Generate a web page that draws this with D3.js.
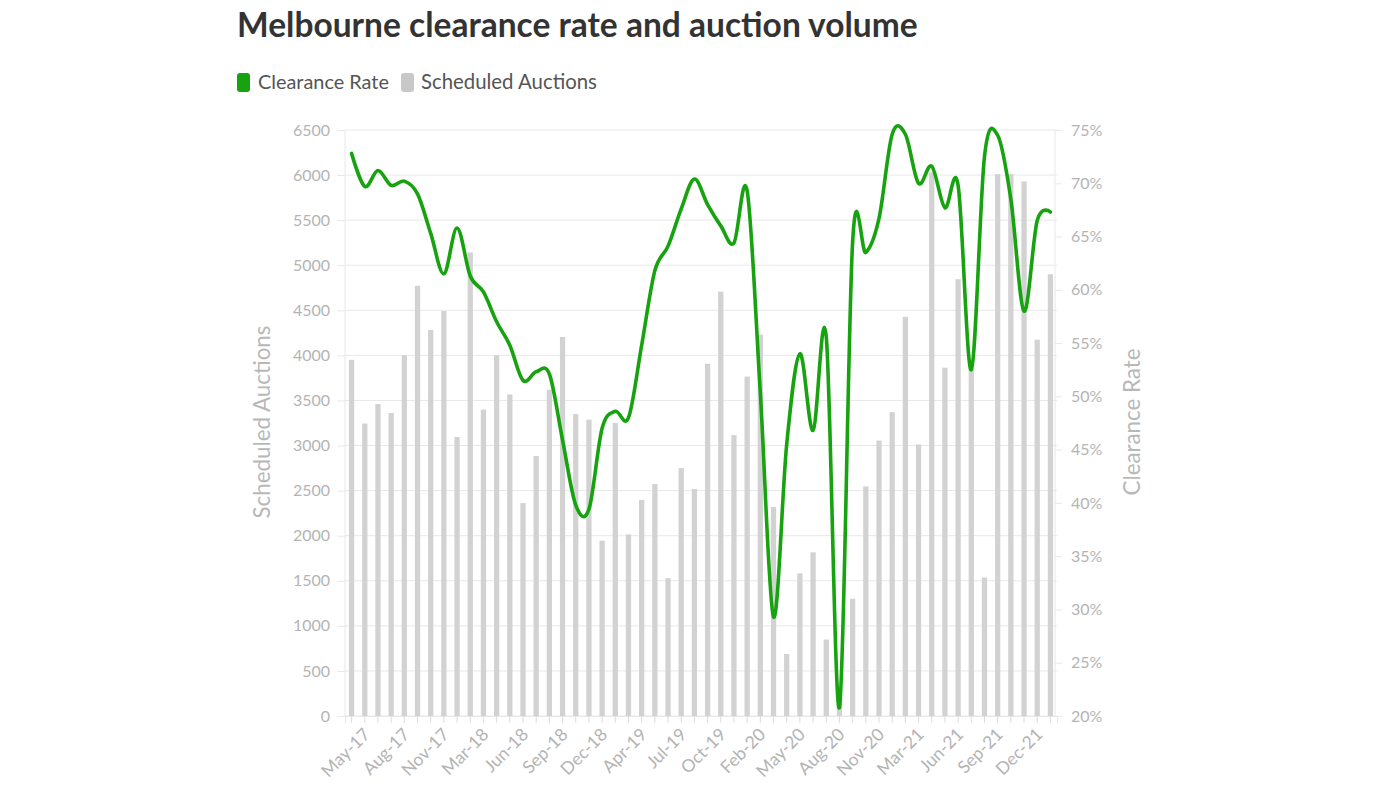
<!DOCTYPE html>
<html>
<head>
<meta charset="utf-8">
<script src="https://cdn.jsdelivr.net/npm/d3@7"></script>
<style>
  html, body { margin: 0; padding: 0; background: #fff; }
  svg { display: block; font-family: "Lato", "Noto Sans", sans-serif; }
</style>
</head>
<body>
<svg id="chart" width="1396" height="785"></svg>
<script>
// ---- data ----
const categories = [
  "May-17","Jun-17","Jul-17","Aug-17","Sep-17","Oct-17","Nov-17","Dec-17",
  "Feb-18","Mar-18","Apr-18","May-18","Jun-18","Jul-18","Aug-18","Sep-18","Oct-18","Nov-18","Dec-18",
  "Feb-19","Mar-19","Apr-19","May-19","Jun-19","Jul-19","Aug-19","Sep-19","Oct-19","Nov-19","Dec-19",
  "Feb-20","Mar-20","Apr-20","May-20","Jun-20","Jul-20","Aug-20","Sep-20","Oct-20","Nov-20","Dec-20",
  "Feb-21","Mar-21","Apr-21","May-21","Jun-21","Jul-21","Aug-21","Sep-21","Oct-21","Nov-21","Dec-21",
  "Feb-22","Mar-22"
];
const scheduledAuctions = [
  3950, 3244, 3460, 3361, 4002, 4772, 4282, 4492,
  3094, 5142, 3399, 4002, 3567, 2362, 2883, 3619, 4204, 3348, 3287,
  1945, 3249, 2014, 2397, 2573, 1528, 2750, 2517, 3907, 4707, 3115,
  3765, 4230, 2319, 688, 1583, 1816, 848, 300, 1300, 2547, 3055,
  3370, 4428, 3012, 6030, 3864, 4845, 3850, 1536, 6010, 6010, 5930,
  4174, 4900
];
const clearanceRate = [
  72.8, 69.7, 71.2, 69.8, 70.2, 69.0, 65.3, 61.5,
  65.8, 61.3, 59.8, 57.0, 54.8, 51.5, 52.3, 52.1, 45.9, 39.8, 39.4,
  47.0, 48.6, 48.0, 54.8, 61.8, 64.1, 67.6, 70.4, 68.0, 66.0, 64.4,
  69.3, 50.3, 29.3, 45.5, 54.0, 46.8, 55.6, 20.8, 64.5, 63.5, 66.7,
  74.6, 74.6, 70.0, 71.6, 67.7, 69.8, 52.5, 72.5, 74.5, 68.5, 58.0,
  66.5, 67.3
];
const leftTicks = [0,500,1000,1500,2000,2500,3000,3500,4000,4500,5000,5500,6000,6500];
const rightTicks = [20,25,30,35,40,45,50,55,60,65,70,75];
const xLabelEvery = 3;

// ---- setup ----
const svg = d3.select("#chart");
const W = 1396, H = 785;
const plot = { left: 345, right: 1057, top: 130, bottom: 716 };
const GREEN = "#17a30f", BAR = "#d2d2d2", GRID = "#e8e8e8", TICKTXT = "#b4b4b4";

svg.append("rect").attr("width", W).attr("height", H).attr("fill", "#fff");

const x = d3.scaleBand().domain(categories).range([plot.left, plot.right])
  .paddingInner(0.6).paddingOuter(0.3);
const yL = d3.scaleLinear().domain([0, 6500]).range([plot.bottom, plot.top]);
const yR = d3.scaleLinear().domain([20, 75]).range([plot.bottom, plot.top]);

function fit(sel, target) {
  const fs = parseFloat(sel.attr("font-size"));
  const w = sel.node().getComputedTextLength();
  if (w > 0) sel.attr("font-size", (fs * target / w).toFixed(2));
  return sel;
}

// ---- title ----
fit(svg.append("text").attr("x", 237).attr("y", 37)
  .attr("font-size", 30).attr("font-weight", 700).attr("fill", "#333")
  .text("Melbourne clearance rate and auction volume"), 681);

// ---- legend ----
const lg = svg.append("g");
lg.append("rect").attr("x", 237).attr("y", 73).attr("width", 13).attr("height", 19).attr("rx", 3).attr("fill", GREEN);
fit(lg.append("text").attr("x", 258).attr("y", 89).attr("font-size", 18).attr("fill", "#555").text("Clearance Rate"), 131);
lg.append("rect").attr("x", 401).attr("y", 73).attr("width", 13).attr("height", 19).attr("rx", 3).attr("fill", "#c8c8c8");
fit(lg.append("text").attr("x", 421).attr("y", 89).attr("font-size", 18).attr("fill", "#555").text("Scheduled Auctions"), 176);

// ---- gridlines ----
svg.append("g").selectAll("line").data(leftTicks).join("line")
  .attr("x1", plot.left).attr("x2", plot.right)
  .attr("y1", d => yL(d)).attr("y2", d => yL(d))
  .attr("stroke", GRID).attr("stroke-width", 1);
svg.append("line").attr("x1", plot.left).attr("x2", plot.left).attr("y1", plot.top).attr("y2", plot.bottom)
  .attr("stroke", GRID);
svg.append("line").attr("x1", plot.right - 2).attr("x2", plot.right - 2).attr("y1", plot.top).attr("y2", plot.bottom)
  .attr("stroke", GRID);

// ---- left axis ----
const leftAxis = svg.append("g").attr("transform", `translate(${plot.left},0)`)
  .call(d3.axisLeft(yL).tickValues(leftTicks).tickSize(8).tickPadding(7).tickFormat(d3.format("d")));
leftAxis.select(".domain").remove();
leftAxis.selectAll(".tick line").attr("stroke", GRID);
leftAxis.selectAll(".tick text").attr("fill", TICKTXT).attr("font-size", 16).attr("font-family", "Lato, sans-serif");

// ---- right axis ----
const rightAxis = svg.append("g").attr("transform", `translate(${plot.right - 2},0)`)
  .call(d3.axisRight(yR).tickValues(rightTicks).tickSize(7).tickPadding(9).tickFormat(d => d + "%"));
rightAxis.select(".domain").remove();
rightAxis.selectAll(".tick line").attr("stroke", GRID);
rightAxis.selectAll(".tick text").attr("fill", TICKTXT).attr("font-size", 16).attr("font-family", "Lato, sans-serif");

// ---- axis titles ----
fit(svg.append("text").attr("transform", "translate(270,422) rotate(-90)")
  .attr("text-anchor", "middle").attr("font-size", 20).attr("fill", "#b8b8b8")
  .text("Scheduled Auctions"), 193);
fit(svg.append("text").attr("transform", "translate(1140,422) rotate(-90)")
  .attr("text-anchor", "middle").attr("font-size", 20).attr("fill", "#b8b8b8")
  .text("Clearance Rate"), 147);

// ---- bars ----
svg.append("g").selectAll("rect").data(categories).join("rect")
  .attr("x", d => x(d)).attr("width", x.bandwidth())
  .attr("y", (d, i) => yL(scheduledAuctions[i]))
  .attr("height", (d, i) => plot.bottom - yL(scheduledAuctions[i]))
  .attr("fill", BAR);

// ---- x axis ----
const xAxis = svg.append("g").attr("transform", `translate(0,${plot.bottom})`)
  .call(d3.axisBottom(x).tickSize(7).tickPadding(6)
    .tickFormat((d, i) => i % xLabelEvery === 0 ? d : ""));
xAxis.select(".domain").attr("stroke", GRID);
xAxis.selectAll(".tick line").attr("stroke", "#dcdcdc");
xAxis.selectAll(".tick text")
  .attr("fill", TICKTXT).attr("font-size", 17.5).attr("font-family", "Lato, sans-serif")
  .attr("text-anchor", "end").attr("dy", "0.35em")
  .attr("transform", "translate(6,6) rotate(-45)");

// ---- line ----
const line = d3.line()
  .x((d, i) => x(categories[i]) + x.bandwidth() / 2)
  .y(d => yR(d))
  .curve(d3.curveCardinal.tension(0));
svg.append("path").datum(clearanceRate).attr("d", line)
  .attr("fill", "none").attr("stroke", GREEN).attr("stroke-width", 3.6)
  .attr("stroke-linejoin", "round").attr("stroke-linecap", "round");
</script>
</body>
</html>
